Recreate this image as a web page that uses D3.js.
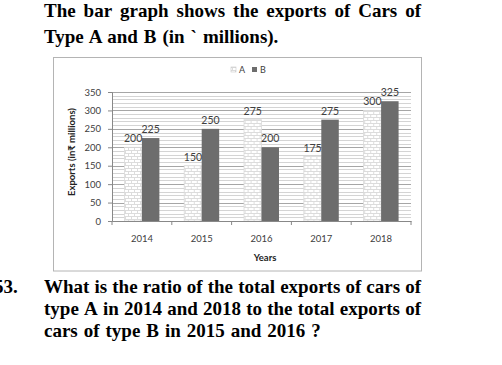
<!DOCTYPE html>
<html><head><meta charset="utf-8">
<script src="https://cdn.jsdelivr.net/npm/d3@7"></script>
<style>body{margin:0;background:#fff}svg{display:block}</style>
</head><body>
<svg id="c" width="502" height="365"></svg>
<script>
const years = ["2014","2015","2016","2017","2018"];
const seriesNames = ["A","B"];
const valuesA = [200,150,275,175,300];
const valuesB = [225,250,200,275,325];
const yTicks = [0,50,100,150,200,250,300,350];
const titleLines = ["The bar graph shows the exports of Cars of","Type A and B (in ` millions)."];
const questionLines = ["What is the ratio of the total exports of cars of","type A in 2014 and 2018 to the total exports of","cars of type B in 2015 and 2016 ?"];

const svg = d3.select("#c");
const serif = "'Liberation Serif','Times New Roman',serif";
const sans = "Lato,'Open Sans','Liberation Sans',sans-serif";
const FS = 19;

function textLine(str, x0, x1, y, justify){
  const g = svg.append("g");
  if(!justify){
    g.append("text").attr("x",x0).attr("y",y).text(str)
      .attr("font-family",serif).attr("font-weight","bold").attr("font-size",FS)
      .attr("word-spacing",1.2);
    return;
  }
  const words = str.split(" ");
  const nodes = words.map(w=>g.append("text").attr("y",y).text(w)
      .attr("font-family",serif).attr("font-weight","bold").attr("font-size",FS));
  const widths = nodes.map(n=>n.node().getComputedTextLength());
  const total = d3.sum(widths);
  const gap = (x1-x0-total)/(words.length-1);
  let x = x0;
  nodes.forEach((n,i)=>{n.attr("x",x); x += widths[i]+gap;});
}
textLine(titleLines[0],44,421,17,true);
textLine(titleLines[1],44,421,43,false);
svg.append("text").attr("x",-6).attr("y",293).text("53.")
  .attr("font-family",serif).attr("font-weight","bold").attr("font-size",FS);
textLine(questionLines[0],44,421,293,true);
textLine(questionLines[1],44,421,315,true);
textLine(questionLines[2],44,421,337,false);

// chart frame
svg.append("rect").attr("x",53.5).attr("y",57.5).attr("width",368).attr("height",213.5)
  .attr("fill","#fff").attr("stroke","#b4b4b4").attr("stroke-width",1);

// pattern
const defs = svg.append("defs");
const pat = defs.append("pattern").attr("id","pA").attr("patternUnits","userSpaceOnUse")
  .attr("width",6).attr("height",6);
pat.append("rect").attr("width",6).attr("height",6).attr("fill","#fff");
pat.append("path").attr("d","M0,0.5H6M0,3.5H6M1.5,0.5V3.5M4.5,3.5V6.5")
  .attr("stroke","#dcdcdc").attr("stroke-width",1).attr("fill","none");

const x = d3.scaleBand().domain(years).range([112,411]).padding(0);
const x1 = d3.scaleBand().domain(seriesNames).range([0,x.bandwidth()]).paddingInner(0).paddingOuter(0.71);
const y = d3.scaleLinear().domain([0,350]).range([221,92]);

// grid
const minor = d3.range(0,351,10).filter(v=>v%50!==0);
svg.append("g").selectAll("line").data(minor).join("line")
  .attr("x1",112).attr("x2",411).attr("y1",d=>Math.round(y(d))+0.5).attr("y2",d=>Math.round(y(d))+0.5)
  .attr("stroke","#d4d4d4");
svg.append("g").selectAll("line").data(yTicks.filter(v=>v>0)).join("line")
  .attr("x1",112).attr("x2",411).attr("y1",d=>Math.round(y(d))+0.5).attr("y2",d=>Math.round(y(d))+0.5)
  .attr("stroke","#a6a6a6");

// bars
const data = years.map((yr,i)=>({year:yr, A:valuesA[i], B:valuesB[i]}));
const groups = svg.append("g").selectAll("g").data(data).join("g")
  .attr("transform",d=>`translate(${x(d.year)},0)`);
groups.append("rect").attr("x",x1("A")).attr("width",x1.bandwidth())
  .attr("y",d=>y(d.A)).attr("height",d=>y(0)-y(d.A))
  .attr("fill","url(#pA)").attr("stroke","#dadada").attr("stroke-width",0.8);
groups.append("rect").attr("x",x1("B")).attr("width",x1.bandwidth())
  .attr("y",d=>y(d.B)).attr("height",d=>y(0)-y(d.B))
  .attr("fill","#6d6d6d");
groups.append("text").attr("x",x1("A")+x1.bandwidth()/2).attr("y",d=>y(d.A)-5)
  .attr("text-anchor","middle").text(d=>d.A)
  .attr("font-family",sans).attr("font-size",10.5).attr("fill","#404040");
groups.append("text").attr("x",x1("B")+x1.bandwidth()/2).attr("y",d=>y(d.B)-5)
  .attr("text-anchor","middle").text(d=>d.B)
  .attr("font-family",sans).attr("font-size",10.5).attr("fill","#404040");

// axes
const yAxis = svg.append("g").attr("transform","translate(112,0)")
  .call(d3.axisLeft(y).tickValues(yTicks).tickSize(4).tickPadding(7));
yAxis.select(".domain").attr("stroke","#888");
yAxis.selectAll(".tick line").attr("stroke","#888");
yAxis.selectAll("text").attr("font-family",sans).attr("font-size",9.5).attr("fill","#404040");

const xAxis = svg.append("g").attr("transform",`translate(0,${y(0)})`)
  .call(d3.axisBottom(x).tickSize(0).tickPadding(14));
xAxis.select(".domain").attr("stroke","#888");
xAxis.selectAll("text").attr("font-family",sans).attr("font-size",9.5).attr("fill","#404040");
svg.append("g").selectAll("line").data(years.concat(["end"])).join("line")
  .attr("x1",d=>d==="end"?411:x(d)).attr("x2",d=>d==="end"?411:x(d))
  .attr("y1",y(0)).attr("y2",y(0)+4).attr("stroke","#888");

// titles
svg.append("text").attr("x",265).attr("y",261).attr("text-anchor","middle").text("Years")
  .attr("font-family",sans).attr("font-weight","bold").attr("font-size",9.5).attr("fill","#222");
svg.append("text").attr("transform","translate(75,152) rotate(-90)").attr("text-anchor","middle")
  .text("Exports (in₹ millions)")
  .attr("font-family",sans).attr("font-weight","bold").attr("font-size",9.5).attr("fill","#222");

// legend
const lg = svg.append("g").attr("transform","translate(231,67)");
seriesNames.forEach((s,i)=>{
  const gx = i*21;
  lg.append("rect").attr("x",gx).attr("y",0).attr("width",5).attr("height",5)
    .attr("fill",s==="A"?"url(#pA)":"#6d6d6d").attr("stroke",s==="A"?"#c8c8c8":"none").attr("stroke-width",0.6);
  lg.append("text").attr("x",gx+8).attr("y",5.5).text(s)
    .attr("font-family",sans).attr("font-size",9).attr("fill","#404040");
});
</script>
</body></html>
